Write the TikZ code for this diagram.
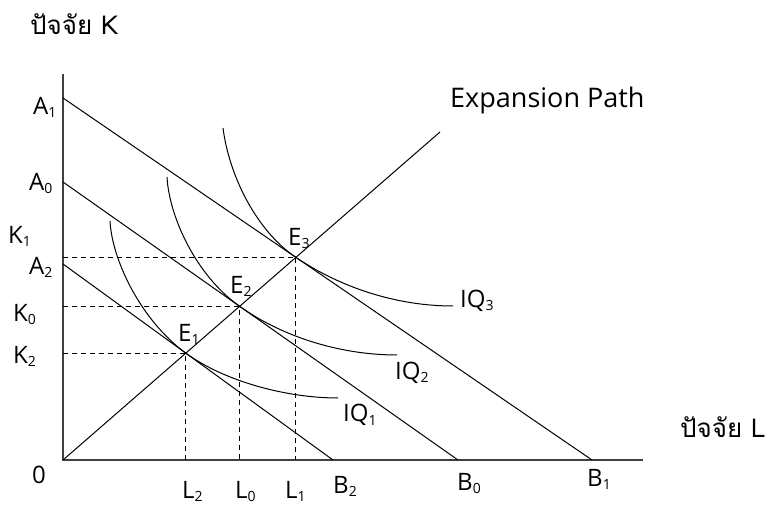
\documentclass[tikz,border=0pt]{standalone}
\usepackage{fontspec}
\setmainfont{Open Sans}
\newfontfamily\thaifont[Script=Thai]{Loma}
\newcommand{\lsub}[1]{\raisebox{-3pt}{\fontsize{14}{14}\selectfont #1}}
\usetikzlibrary{calc}

\begin{document}
\begin{tikzpicture}[
    x=1pt, y=1pt,
    axis/.style={line width=1.5pt, black!75},
    budget/.style={line width=1pt},
    guide/.style={line width=0.9pt, dash pattern=on 5pt off 4pt},
    isoquant/.style={line width=1pt},
    label/.style={font=\fontsize{24}{26}\selectfont, inner sep=0pt, anchor=base west},
    thai/.style={font=\thaifont\fontsize{26}{28}\selectfont, inner sep=0pt, anchor=base west}
]
\useasboundingbox (-63,-44) rectangle (706,460);

% Axes
\coordinate (O) at (0,0);
\coordinate (Ytop) at (0,386);
\coordinate (Xend) at (580,0);
\draw[axis] (Ytop) -- (O) -- (Xend);

% Isocost lines
\coordinate (A1) at (0,362);
\coordinate (A0) at (0,278);
\coordinate (A2) at (0,196);
\coordinate (B1) at (529,0);
\coordinate (B0) at (395,0);
\coordinate (B2) at (270,0);
\draw[budget] (A1) -- (B1);
\draw[budget] (A0) -- (B0);
\draw[budget] (A2) -- (B2);

% Expansion path
\coordinate (P) at (377,328);
\draw[budget] (O) -- (P);

% Equilibrium points
\coordinate (E1) at (intersection of A2--B2 and O--P);
\coordinate (E2) at (intersection of A0--B0 and O--P);
\coordinate (E3) at (intersection of A1--B1 and O--P);

% Guide lines
\draw[guide] (O |- E1) -- (E1) -- (E1 |- O);
\draw[guide] (O |- E2) -- (E2) -- (E2 |- O);
\draw[guide] (O |- E3) -- (E3) -- (E3 |- O);

% Isoquants
\coordinate (Q1s) at (47,239);
\coordinate (Q1e) at (275,62);
\coordinate (Q2s) at (104,283);
\coordinate (Q2e) at (334,105);
\coordinate (Q3s) at (160,332);
\coordinate (Q3e) at (390,154);
\draw[isoquant] (Q1s) .. controls (49,200) and ($(E1)+(-45,33)$) .. (E1)
    .. controls ($(E1)+(40,-29)$) and (225,62) .. (Q1e);
\draw[isoquant] (Q2s) .. controls (106,245) and ($(E2)+(-45,32)$) .. (E2)
    .. controls ($(E2)+(45,-32)$) and (280,105) .. (Q2e);
\draw[isoquant] (Q3s) .. controls (166,285) and ($(E3)+(-40,27)$) .. (E3)
    .. controls ($(E3)+(46,-31)$) and (335,154) .. (Q3e);

% Labels
\node[thai] (lK) at (-33,425) {ปัจจัย K};
\node[thai] (lL) at (617,23) {ปัจจัย L};
\node[label, font=\fontsize{27}{29}\selectfont] (lP) at (387,352) {Expansion Path};
\node[label] (lO) at (-31,-23) {0};
\node[label] (lA1) at (-30,345) {A\lsub{1}};
\node[label] (lA0) at (-34,269) {A\lsub{0}};
\node[label] (lA2) at (-34,185) {A\lsub{2}};
\node[label] (lK1) at (-55,216) {K\lsub{1}};
\node[label] (lK0) at (-50,138) {K\lsub{0}};
\node[label] (lK2) at (-50,96) {K\lsub{2}};
\node[label] (lL2) at (119,-38) {L\lsub{2}};
\node[label] (lL0) at (172,-38) {L\lsub{0}};
\node[label] (lL1) at (222,-38) {L\lsub{1}};
\node[label] (lB2) at (270,-33) {B\lsub{2}};
\node[label] (lB0) at (394,-30) {B\lsub{0}};
\node[label] (lB1) at (524,-26) {B\lsub{1}};
\node[label] (lE1) at (115,118) {E\lsub{1}};
\node[label] (lE2) at (167,166) {E\lsub{2}};
\node[label] (lE3) at (225,214) {E\lsub{3}};
\node[label] (lQ1) at (280,38) {IQ\lsub{1}};
\node[label] (lQ2) at (332,81) {IQ\lsub{2}};
\node[label] (lQ3) at (397,152) {IQ\lsub{3}};
\end{tikzpicture}
\end{document}
